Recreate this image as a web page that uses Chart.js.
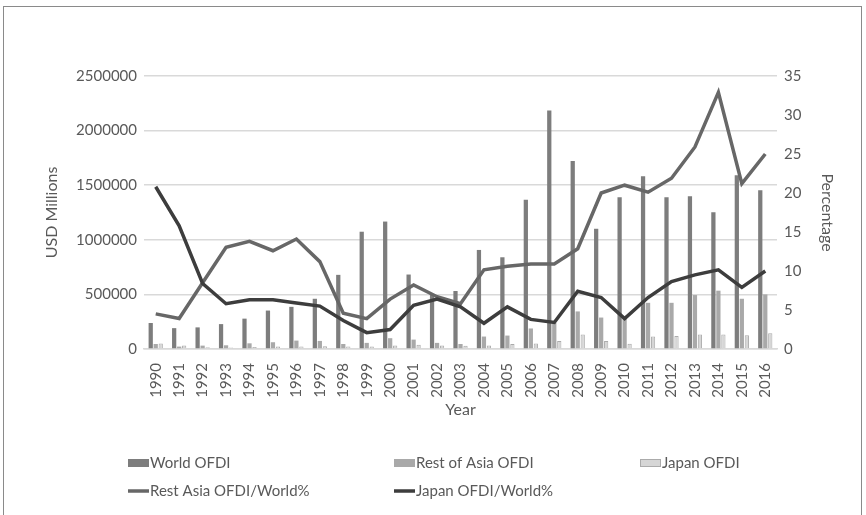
<!DOCTYPE html>
<html>
<head>
<meta charset="utf-8">
<script src="https://cdn.jsdelivr.net/npm/chart.js@4/dist/chart.umd.min.js"></script>
<style>
  html, body { margin: 0; padding: 0; background: #ffffff; }
  #wrap { position: relative; width: 866px; height: 515px; overflow: hidden; }
  #frame { position: absolute; left: 3px; top: 6px; width: 859px; height: 530px;
           border: 1px solid #8a8a8a; box-sizing: border-box; }
  canvas { position: absolute; left: 0; top: 0; }
</style>
</head>
<body>
<div id="wrap">
  <div id="frame"></div>
  <canvas id="chart" width="866" height="515"></canvas>
</div>
<script>
// Outward FDI, USD millions, and shares of world OFDI (%)
const years = ['1990','1991','1992','1993','1994','1995','1996','1997','1998','1999',
               '2000','2001','2002','2003','2004','2005','2006','2007','2008','2009',
               '2010','2011','2012','2013','2014','2015','2016'];

const worldOFDI = [238000, 191000, 198000, 228000, 278000, 352000, 386000, 460000, 679000, 1074000,
                   1167000, 682000, 500000, 531000, 907000, 840000, 1367000, 2185000, 1721000, 1101000,
                   1390000, 1583000, 1390000, 1399000, 1252000, 1592000, 1454000];

const restAsiaOFDI = [46000, 22000, 31000, 34000, 52000, 62000, 77000, 74000, 46000, 56000,
                      99000, 86000, 56000, 46000, 114000, 123000, 188000, 240000, 344000, 288000,
                      300000, 423000, 423000, 494000, 534000, 460000, 500000];

const japanOFDI = [50000, 31000, 17000, 14000, 18000, 22000, 23000, 26000, 24000, 22000,
                   32000, 38000, 32000, 29000, 31000, 46000, 50000, 73000, 132000, 74000,
                   49000, 115000, 120000, 132000, 132000, 126000, 144000];

const restAsiaShare = [4.5, 3.9, 8.5, 13.05, 13.8, 12.6, 14.1, 11.2, 4.6, 3.9,
                       6.4, 8.2, 6.7, 5.8, 10.15, 10.6, 10.9, 10.9, 12.85, 20.0,
                       21.0, 20.1, 21.9, 25.9, 32.9, 21.2, 25.0];

const japanShare = [20.8, 15.8, 8.4, 5.8, 6.3, 6.3, 5.9, 5.5, 3.65, 2.1,
                    2.5, 5.6, 6.4, 5.4, 3.3, 5.4, 3.8, 3.4, 7.4, 6.6,
                    3.9, 6.6, 8.65, 9.5, 10.15, 7.9, 10.0];

const FONT = 'Lato, "Open Sans", sans-serif';
const TEXT = '#595959';

// Two-row, three-column legend drawn under the axis
const legendGrid = {
  id: 'legendGrid',
  afterDraw(chart) {
    const ctx = chart.ctx;
    const ds = chart.data.datasets;
    const cells = [
      { i: 2, x: 128, y: 463 }, { i: 3, x: 394, y: 463 }, { i: 4, x: 640, y: 463 },
      { i: 0, x: 128, y: 491 }, { i: 1, x: 394, y: 491 }
    ];
    ctx.save();
    ctx.font = '15px ' + FONT;
    ctx.textBaseline = 'middle';
    ctx.fillStyle = TEXT;
    const sw = 21;
    cells.forEach(c => {
      const d = ds[c.i];
      if (d.type === 'line') {
        ctx.strokeStyle = d.borderColor;
        ctx.lineWidth = 3.5;
        ctx.beginPath();
        ctx.moveTo(c.x, c.y);
        ctx.lineTo(c.x + sw, c.y);
        ctx.stroke();
      } else {
        ctx.fillStyle = d.backgroundColor;
        ctx.fillRect(c.x, c.y - 4, sw, 8);
        if (d.borderWidth) {
          ctx.strokeStyle = d.borderColor;
          ctx.lineWidth = 1;
          ctx.strokeRect(c.x + 0.5, c.y - 3.5, sw - 1, 7);
        }
      }
      ctx.fillStyle = TEXT;
      ctx.fillText(d.label, c.x + sw + 1, c.y);
    });
    ctx.restore();
  }
};

new Chart(document.getElementById('chart'), {
  data: {
    labels: years,
    datasets: [
      { type: 'line', label: 'Rest Asia OFDI/World%', data: restAsiaShare, yAxisID: 'y2',
        borderColor: '#676767', borderWidth: 3.5, pointRadius: 0, tension: 0, order: 1 },
      { type: 'line', label: 'Japan OFDI/World%', data: japanShare, yAxisID: 'y2',
        borderColor: '#3d3d3d', borderWidth: 3.5, pointRadius: 0, tension: 0, order: 0 },
      { type: 'bar', label: 'World OFDI', data: worldOFDI, yAxisID: 'y',
        backgroundColor: '#7d7d7d', order: 2 },
      { type: 'bar', label: 'Rest of Asia OFDI', data: restAsiaOFDI, yAxisID: 'y',
        backgroundColor: '#a9a9a9', order: 2 },
      { type: 'bar', label: 'Japan OFDI', data: japanOFDI, yAxisID: 'y',
        backgroundColor: '#d6d6d6', borderColor: '#ababab', borderWidth: 1, order: 2 }
    ]
  },
  options: {
    responsive: false,
    animation: false,
    layout: { padding: { left: 38, right: 25, top: 76, bottom: 95 } },
    datasets: { bar: { categoryPercentage: 0.64, barPercentage: 0.85 } },
    plugins: { legend: { display: false }, tooltip: { enabled: false } },
    scales: {
      x: {
        grid: { display: false },
        border: { display: true, color: '#d9d9d9', width: 1.5 },
        ticks: { minRotation: 90, maxRotation: 90, padding: 6, color: TEXT,
                 font: { family: FONT, size: 15 } },
        title: { display: true, text: 'Year', color: TEXT, padding: { top: 0, bottom: 1 },
                 font: { family: FONT, size: 16 } },
        afterFit(s) { s.height = 71; }
      },
      y: {
        position: 'left', min: 0, max: 2500000,
        grid: { color: '#d9d9d9', lineWidth: 1.5, drawTicks: false },
        border: { display: false },
        ticks: { stepSize: 500000, padding: 7, color: TEXT, font: { family: FONT, size: 15 },
                 callback: v => String(v) },
        title: { display: true, text: 'USD Millions', color: TEXT, padding: { top: 4, bottom: 4 },
                 font: { family: FONT, size: 16 } },
        afterFit(s) { s.width = 106; }
      },
      y2: {
        position: 'right', min: 0, max: 35,
        grid: { display: false, drawTicks: false },
        border: { display: false },
        ticks: { stepSize: 5, padding: 7, color: TEXT, font: { family: FONT, size: 15 } },
        title: { display: true, text: 'Percentage', color: TEXT, padding: { top: 4, bottom: 4 },
                 font: { family: FONT, size: 16 } },
        afterFit(s) { s.width = 64; }
      }
    }
  },
  plugins: [legendGrid]
});
</script>
</body>
</html>
